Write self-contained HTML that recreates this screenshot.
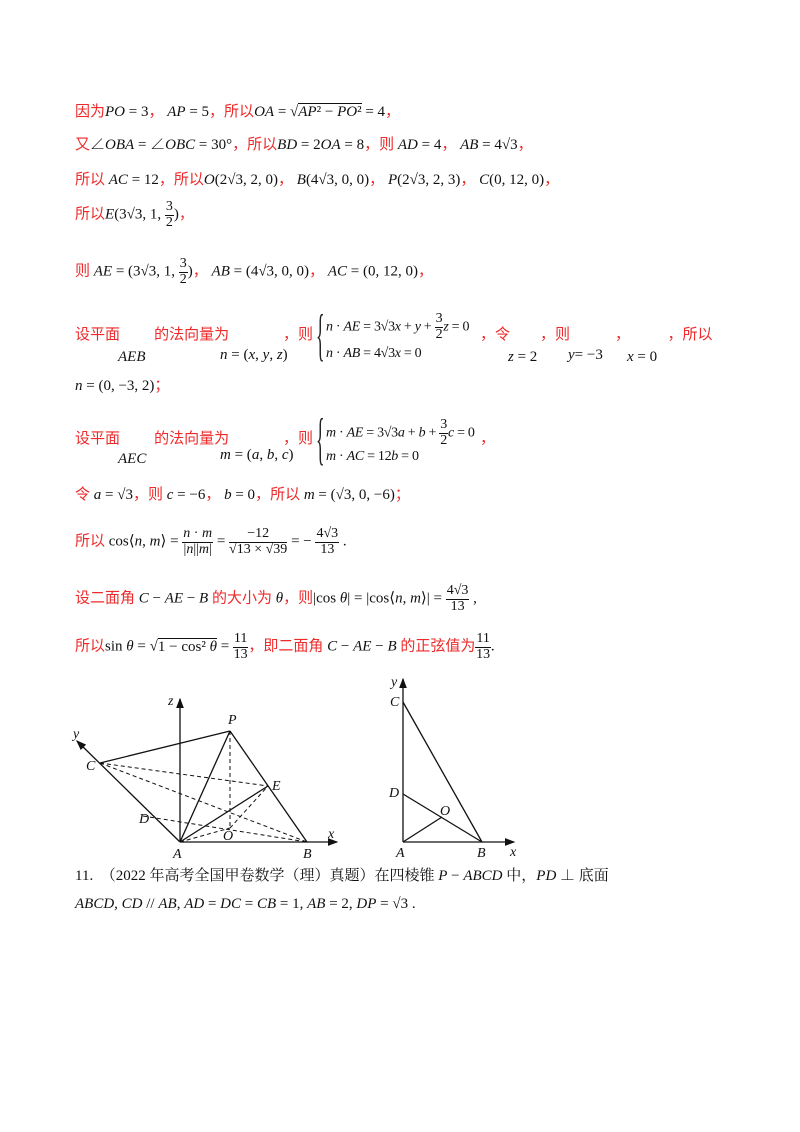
<!DOCTYPE html>
<html><head><meta charset="utf-8"><style>
body{margin:0;background:#fff;width:800px;height:1132px;position:relative;overflow:hidden;font-family:"Liberation Serif","Noto Serif CJK SC",serif;font-size:15px;color:#111}
.t{position:absolute;white-space:nowrap;line-height:1}
.r{color:#ee2a2a;font-family:"Liberation Sans","Noto Sans CJK SC",sans-serif}
i{font-style:italic}
.fr{display:inline-block;vertical-align:middle;text-align:center;font-size:14px;line-height:1.05}
.fr span{display:block}
.fr .n{border-bottom:1px solid #111;padding:0 1px}
.br{position:absolute;font-size:18px;transform:scale(1,3.2);transform-origin:0 0;color:#222;line-height:1}
.sys{font-size:14px;letter-spacing:-0.3px}
</style></head><body>
<div class="t" style="left:75px;top:104px"><span class="r">因为</span><i>PO</i> = 3<span class="r">，</span> <i>AP</i> = 5<span class="r">，所以</span><i>OA</i> = √<span style="border-top:1px solid #111"><i>AP</i>² − <i>PO</i>²</span> = 4<span class="r">，</span></div>
<div class="t" style="left:75px;top:137px"><span class="r">又</span>∠<i>OBA</i> = ∠<i>OBC</i> = 30°<span class="r">，所以</span><i>BD</i> = 2<i>OA</i> = 8<span class="r">，则</span> <i>AD</i> = 4<span class="r">，</span> <i>AB</i> = 4√3<span class="r">，</span></div>
<div class="t" style="left:75px;top:172px"><span class="r">所以</span> <i>AC</i> = 12<span class="r">，所以</span><i>O</i>(2√3, 2, 0)<span class="r">，</span> <i>B</i>(4√3, 0, 0)<span class="r">，</span> <i>P</i>(2√3, 2, 3)<span class="r">，</span> <i>C</i>(0, 12, 0)<span class="r">，</span></div>
<div class="t" style="left:75px;top:200px"><span class="r">所以</span><i>E</i>(3√3, 1, <span class="fr"><span class="n">3</span><span>2</span></span>)<span class="r">，</span></div>
<div class="t" style="left:75px;top:257px"><span class="r">则</span> <i>AE</i> = (3√3, 1, <span class="fr"><span class="n">3</span><span>2</span></span>)<span class="r">，</span> <i>AB</i> = (4√3, 0, 0)<span class="r">，</span> <i>AC</i> = (0, 12, 0)<span class="r">，</span></div>
<div class="t r" style="left:75px;top:327px">设平面　　 的法向量为</div>
<div class="t" style="left:118px;top:350px"><i>AEB</i></div>
<div class="t" style="left:220px;top:348px"><i>n</i> = (<i>x</i>, <i>y</i>, <i>z</i>)</div>
<div class="t r" style="left:283px;top:327px">，则</div>
<div class="br" style="left:316px;top:306px">{</div>
<div class="t sys" style="left:326px;top:312px"><i>n</i> · <i>AE</i> = 3√3<i>x</i> + <i>y</i> + <span class="fr"><span class="n">3</span><span>2</span></span><i>z</i> = 0</div>
<div class="t sys" style="left:326px;top:347px"><i>n</i> · <i>AB</i> = 4√3<i>x</i> = 0</div>
<div class="t r" style="left:480px;top:327px">，令　　，则　　　，　　　，所以</div>
<div class="t" style="left:508px;top:350px"><i>z</i> = 2</div>
<div class="t" style="left:568px;top:348px"><i>y</i>= −3</div>
<div class="t" style="left:627px;top:350px"><i>x</i> = 0</div>
<div class="t" style="left:75px;top:378px"><i>n</i> = (0, −3, 2)<span class="r">；</span></div>
<div class="t r" style="left:75px;top:431px">设平面　　 的法向量为</div>
<div class="t" style="left:118px;top:452px"><i>AEC</i></div>
<div class="t" style="left:220px;top:448px"><i>m</i> = (<i>a</i>, <i>b</i>, <i>c</i>)</div>
<div class="t r" style="left:283px;top:431px">，则</div>
<div class="br" style="left:316px;top:410px">{</div>
<div class="t sys" style="left:326px;top:418px"><i>m</i> · <i>AE</i> = 3√3<i>a</i> + <i>b</i> + <span class="fr"><span class="n">3</span><span>2</span></span><i>c</i> = 0</div>
<div class="t sys" style="left:326px;top:450px"><i>m</i> · <i>AC</i> = 12<i>b</i> = 0</div>
<div class="t r" style="left:480px;top:431px">，</div>
<div class="t" style="left:75px;top:487px"><span class="r">令</span> <i>a</i> = √3<span class="r">，则</span> <i>c</i> = −6<span class="r">，</span> <i>b</i> = 0<span class="r">，所以</span> <i>m</i> = (√3, 0, −6)<span class="r">；</span></div>
<div class="t" style="left:75px;top:527px"><span class="r">所以</span> cos⟨<i>n</i>, <i>m</i>⟩ = <span class="fr"><span class="n"><i>n</i> · <i>m</i></span><span>|<i>n</i>||<i>m</i>|</span></span> = <span class="fr"><span class="n">−12</span><span>√13 × √39</span></span> = − <span class="fr"><span class="n">4√3</span><span>13</span></span> .</div>
<div class="t" style="left:75px;top:584px"><span class="r">设二面角</span> <i>C</i> − <i>AE</i> − <i>B</i> <span class="r">的大小为</span> <i>θ</i><span class="r">，则</span>|cos <i>θ</i>| = |cos⟨<i>n</i>, <i>m</i>⟩| = <span class="fr"><span class="n">4√3</span><span>13</span></span> ,</div>
<div class="t" style="left:75px;top:632px"><span class="r">所以</span>sin <i>θ</i> = √<span style="border-top:1px solid #111">1 − cos² <i>θ</i></span> = <span class="fr"><span class="n">11</span><span>13</span></span><span class="r">，即二面角</span> <i>C</i> − <i>AE</i> − <i>B</i> <span class="r">的正弦值为</span><span class="fr"><span class="n">11</span><span>13</span></span>.</div>

<svg width="800" height="1132" style="position:absolute;left:0;top:0" font-family="Liberation Serif" font-style="italic" font-size="14">
<defs><marker id="a" markerWidth="8" markerHeight="8" refX="7" refY="4" orient="auto"><path d="M0,1 L8,4 L0,7 z" fill="#111"/></marker></defs>
<g stroke="#111" stroke-width="1.3" fill="none">
<line x1="180" y1="842" x2="180" y2="699" marker-end="url(#a)"/>
<line x1="180" y1="842" x2="337" y2="842" marker-end="url(#a)"/>
<line x1="180" y1="842" x2="77" y2="741" marker-end="url(#a)"/>
<line x1="100" y1="763" x2="230" y2="731"/>
<line x1="230" y1="731" x2="307" y2="842"/>
<line x1="230" y1="731" x2="180" y2="842"/>
<line x1="180" y1="842" x2="268" y2="786"/>
<g stroke-dasharray="4,3" stroke-width="1">
<line x1="230" y1="731" x2="230" y2="828"/>
<line x1="100" y1="763" x2="268" y2="786"/>
<line x1="100" y1="763" x2="307" y2="842"/>
<line x1="143" y1="816" x2="307" y2="842"/>
<line x1="180" y1="842" x2="230" y2="828"/>
<line x1="230" y1="828" x2="268" y2="786"/>
</g>
<line x1="403" y1="842" x2="403" y2="679" marker-end="url(#a)"/>
<line x1="403" y1="842" x2="514" y2="842" marker-end="url(#a)"/>
<line x1="403" y1="702" x2="482" y2="842"/>
<line x1="403" y1="794" x2="482" y2="842"/>
<line x1="403" y1="842" x2="442" y2="817"/>
</g>
<g fill="#111">
<text x="168" y="705">z</text><text x="228" y="724">P</text><text x="73" y="738">y</text><text x="86" y="770">C</text><text x="272" y="790">E</text><text x="139" y="823">D</text><text x="223" y="840">O</text><text x="173" y="858">A</text><text x="303" y="858">B</text><text x="328" y="838">x</text>
<text x="391" y="686">y</text><text x="390" y="706">C</text><text x="389" y="797">D</text><text x="440" y="815">O</text><text x="396" y="857">A</text><text x="477" y="857">B</text><text x="510" y="856">x</text>
</g>
</svg>
<div class="t" style="left:75px;top:869px;font-family:'Liberation Serif','Noto Serif CJK SC',serif">11.　（2022 年高考全国甲卷数学（理）真题）在四棱锥 <i>P</i> − <i>ABCD</i> 中，<i>PD</i> ⊥ 底面</div>
<div class="t" style="left:75px;top:897px"><i>ABCD</i>, <i>CD</i> // <i>AB</i>, <i>AD</i> = <i>DC</i> = <i>CB</i> = 1, <i>AB</i> = 2, <i>DP</i> = √3 .</div>
</body></html>
